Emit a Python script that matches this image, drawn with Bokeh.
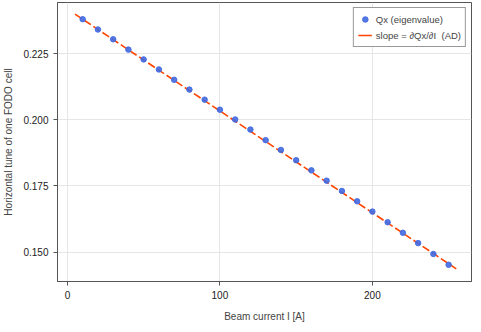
from bokeh.plotting import figure
from bokeh.models import (FixedTicker, NumeralTickFormatter, Range1d, Legend, LegendItem,
                          ColumnDataSource)
from bokeh.embed import file_html
from bokeh.resources import INLINE

current = [10, 20, 30, 40, 50, 60, 70, 80, 90, 100, 110, 120, 130,
           140, 150, 160, 170, 180, 190, 200, 210, 220, 230, 240, 250]
qx = [0.2380, 0.2341, 0.2304, 0.2265, 0.2228, 0.2190, 0.2151, 0.2114, 0.2076,
      0.2038, 0.2001, 0.1963, 0.1923, 0.1886, 0.1847, 0.1809, 0.1770, 0.1731,
      0.1692, 0.1653, 0.1613, 0.1573, 0.1534, 0.1493, 0.1452]
slope_x = [5, 255]
slope_y = [0.2399, 0.1437]

x_ticks = [0, 100, 200]
y_ticks = [0.150, 0.175, 0.200, 0.225]

FONT = "Liberation Sans"

p = figure(width=473, height=324, output_backend="svg", toolbar_location=None,
           x_range=Range1d(-6.5, 265), y_range=Range1d(0.1389, 0.2443),
           min_border_left=5, min_border_right=2, min_border_top=2, min_border_bottom=2)
# off-screen range used only to give the legend a solid line swatch
p.extra_x_ranges = {"legend_only": Range1d(10000, 20000)}

slope_src = ColumnDataSource(data=dict(x=slope_x, y=slope_y))
r_line = p.line("x", "y", source=slope_src, line_color="#FF4500", line_width=1.6, line_dash="8 3")
r_pts = p.scatter(current, qx, size=5.5, fill_color="#4169E1", line_color="#4169E1",
                  fill_alpha=0.9, line_alpha=0.9)
r_leg = p.line("x", "y", source=slope_src, line_color="#FF4500", line_width=1.6,
               x_range_name="legend_only")

p.xaxis.ticker = FixedTicker(ticks=x_ticks)
p.yaxis.ticker = FixedTicker(ticks=y_ticks)
p.yaxis.formatter = NumeralTickFormatter(format="0.000")
p.xaxis.axis_label = "Beam current I [A]"
p.yaxis.axis_label = "Horizontal tune of one FODO cell"

for ax in (p.xaxis, p.yaxis):
    ax.axis_label_text_font = FONT
    ax.axis_label_text_font_size = "10px"
    ax.axis_label_text_font_style = "normal"
    ax.major_label_text_font = FONT
    ax.major_label_text_font_size = "10px"
    ax.major_label_text_color = "#222222"
    ax.axis_line_color = "#555555"
    ax.major_tick_line_color = "#555555"
    ax.minor_tick_line_color = None
    ax.major_tick_in = 0
    ax.major_tick_out = 4
p.xaxis.axis_label_standoff = 9
p.yaxis.axis_label_standoff = 6

p.xgrid.grid_line_color = "#e6e6e6"
p.ygrid.grid_line_color = "#e6e6e6"
p.outline_line_color = "#555555"
p.outline_line_alpha = 1.0

legend = Legend(items=[LegendItem(label="Qx (eigenvalue)", renderers=[r_pts]),
                       LegendItem(label="slope = \u2202Qx/\u2202I  (AD)", renderers=[r_leg])],
                location="top_right")
legend.label_text_font = FONT
legend.label_text_font_size = "9.5px"
legend.border_line_color = "#333333"
legend.glyph_width = 14
legend.glyph_height = 14
legend.label_height = 14
legend.label_standoff = 4
legend.spacing = 2
legend.padding = 4
legend.margin = 5
p.add_layout(legend)

open("out.html", "w").write(file_html(p, INLINE))
